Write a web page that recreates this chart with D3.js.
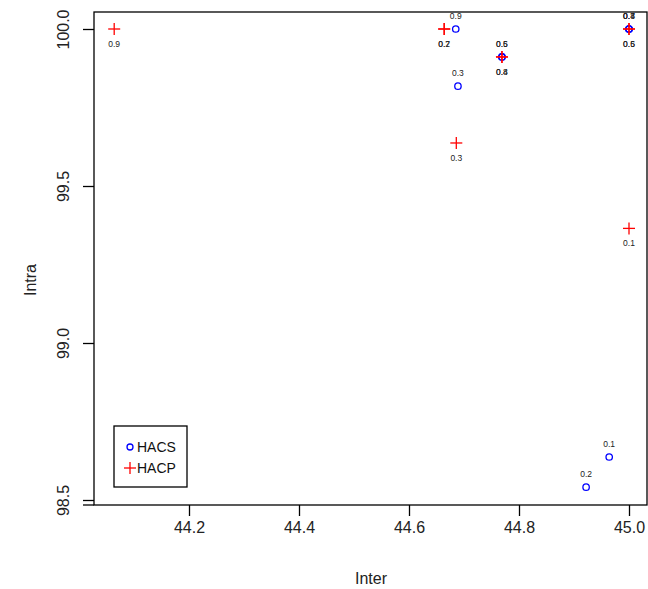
<!DOCTYPE html>
<html>
<head>
<meta charset="utf-8">
<script src="https://cdn.jsdelivr.net/npm/d3@7"></script>
<style>
html,body{margin:0;padding:0;background:#fff;}
svg{display:block;font-family:"Liberation Sans",Arial,sans-serif;}
</style>
</head>
<body>
<svg id="chart" width="648" height="589"></svg>
<script>
// Data
const hacsLabels = ["0.1","0.2","0.3","0.4","0.5","0.6","0.7","0.8","0.9"];
const hacsInter  = [44.964, 44.922, 44.689, 45.0, 44.769, 44.769, 45.0, 45.0, 44.685];
const hacsIntra  = [98.637, 98.541, 99.818, 100.0, 99.911, 99.911, 100.0, 100.0, 100.0];

const hacpLabels = ["0.1","0.2","0.3","0.4","0.5","0.6","0.7","0.8","0.9"];
const hacpInter  = [45.0, 44.664, 44.686, 44.769, 45.0, 45.0, 44.664, 44.769, 44.064];
const hacpIntra  = [99.365, 100.0, 99.637, 99.911, 100.0, 100.0, 100.0, 99.911, 100.0];

const xTicks = [44.2, 44.4, 44.6, 44.8, 45.0];
const yTicks = [98.5, 99.0, 99.5, 100.0];
const legendNames = ["HACS", "HACP"];

const svg = d3.select("#chart");
const box = {left: 94, right: 647, top: 12, bottom: 505};

const x = d3.scaleLinear().domain([44.2, 45.0]).range([189, 629]);
const y = d3.scaleLinear().domain([98.5, 100.0]).range([500, 29]);

// plot box
svg.append("rect")
  .attr("x", box.left).attr("y", box.top)
  .attr("width", box.right - box.left).attr("height", box.bottom - box.top)
  .attr("fill", "none").attr("stroke", "#000").attr("stroke-width", 1.3);
// small extension of bottom line to the left as in reference
svg.append("line").attr("x1", 83).attr("x2", box.left).attr("y1", box.bottom).attr("y2", box.bottom)
  .attr("stroke", "#000").attr("stroke-width", 1.3);

// x axis
const xAxis = d3.axisBottom(x).tickValues(xTicks).tickFormat(d3.format(".1f")).tickSize(11).tickSizeOuter(0);
const gx = svg.append("g").attr("transform", `translate(0,${box.bottom})`).call(xAxis);
gx.select(".domain").remove();
gx.selectAll(".tick line").attr("stroke", "#000").attr("stroke-width", 1.3);
gx.selectAll(".tick text").attr("font-size", 16).attr("font-family", "Liberation Sans, Arial, sans-serif")
  .attr("fill", "#222").attr("y", 23).attr("dy", "0.32em");

// y axis
const yAxis = d3.axisLeft(y).tickValues(yTicks).tickFormat(d3.format(".1f")).tickSize(11).tickSizeOuter(0);
const gy = svg.append("g").attr("transform", `translate(${box.left},0)`).call(yAxis);
gy.select(".domain").remove();
gy.selectAll(".tick line").attr("stroke", "#000").attr("stroke-width", 1.3);
gy.selectAll(".tick text").attr("font-size", 16).attr("font-family", "Liberation Sans, Arial, sans-serif")
  .attr("fill", "#222")
  .attr("x", null).attr("dy", null)
  .attr("text-anchor", "middle")
  .attr("transform", "translate(-31,0) rotate(-90)")
  .attr("dy", "0.35em");

// axis titles
svg.append("text").attr("x", 371).attr("y", 578).attr("dy", "0.35em")
  .attr("text-anchor", "middle").attr("font-size", 16).attr("fill", "#222").text("Inter");
svg.append("text").attr("transform", "translate(30,280) rotate(-90)").attr("dy", "0.35em")
  .attr("text-anchor", "middle").attr("font-size", 16).attr("fill", "#222").text("Intra");

// HACS points (blue circles) with labels above
const hacs = hacsLabels.map((l, i) => ({l, x: hacsInter[i], y: hacsIntra[i]}));
const hacp = hacpLabels.map((l, i) => ({l, x: hacpInter[i], y: hacpIntra[i]}));

svg.append("g").selectAll("circle").data(hacs).join("circle")
  .attr("cx", d => x(d.x)).attr("cy", d => y(d.y)).attr("r", 3.2)
  .attr("fill", "none").attr("stroke", "#0000FF").attr("stroke-width", 1.3);
svg.append("g").selectAll("text").data(hacs).join("text")
  .attr("x", d => x(d.x)).attr("y", d => y(d.y) - 13).attr("dy", "0.35em")
  .attr("text-anchor", "middle").attr("font-size", 8.5).attr("fill", "#222").text(d => d.l);

// HACP points (red plus) with labels below
const plus = svg.append("g").selectAll("g").data(hacp).join("g")
  .attr("transform", d => `translate(${x(d.x)},${y(d.y)})`);
plus.append("line").attr("x1", -6).attr("x2", 6).attr("y1", 0).attr("y2", 0)
  .attr("stroke", "#FF0000").attr("stroke-width", 1.3);
plus.append("line").attr("x1", 0).attr("x2", 0).attr("y1", -6).attr("y2", 6)
  .attr("stroke", "#FF0000").attr("stroke-width", 1.3);
svg.append("g").selectAll("text").data(hacp).join("text")
  .attr("x", d => x(d.x)).attr("y", d => y(d.y) + 15).attr("dy", "0.35em")
  .attr("text-anchor", "middle").attr("font-size", 8.5).attr("fill", "#222").text(d => d.l);

// legend
const lg = svg.append("g");
lg.append("rect").attr("x", 114).attr("y", 426).attr("width", 73).attr("height", 61)
  .attr("fill", "#fff").attr("stroke", "#000").attr("stroke-width", 1.3);
lg.append("circle").attr("cx", 130).attr("cy", 447).attr("r", 3)
  .attr("fill", "none").attr("stroke", "#0000FF").attr("stroke-width", 1.3);
lg.append("line").attr("x1", 124).attr("x2", 136).attr("y1", 468).attr("y2", 468).attr("stroke", "#FF0000").attr("stroke-width", 1.3);
lg.append("line").attr("x1", 130).attr("x2", 130).attr("y1", 462).attr("y2", 474).attr("stroke", "#FF0000").attr("stroke-width", 1.3);
lg.selectAll("text.lt").data(legendNames).join("text").attr("class", "lt")
  .attr("x", 137).attr("y", (d, i) => 447 + i * 21).attr("dy", "0.35em")
  .attr("font-size", 14).attr("fill", "#111").text(d => d);
</script>
</body>
</html>
